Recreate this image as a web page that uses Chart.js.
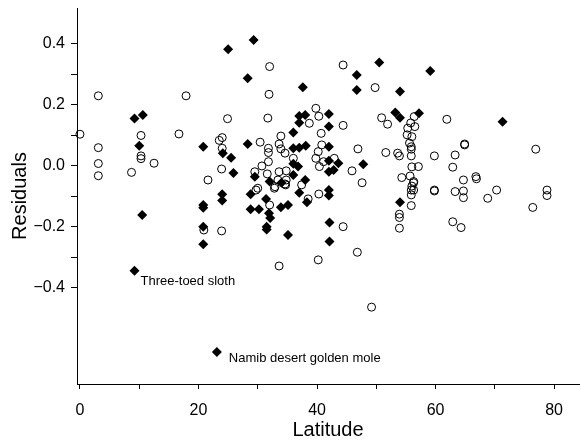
<!DOCTYPE html>
<html>
<head>
<meta charset="utf-8">
<script src="https://cdn.jsdelivr.net/npm/chart.js@4.4.0/dist/chart.umd.min.js"></script>
<style>
  html, body { margin: 0; padding: 0; background: #ffffff; }
</style>
</head>
<body>
<canvas id="chart" width="580" height="442"></canvas>
<script>
// open circles
var openLat = [0, 3.1, 3.1, 3.1, 3.1, 10.3, 10.3, 10.3, 12.5, 8.7,
    16.7, 17.9, 21.6, 24.9, 24.0, 23.5, 24.0, 23.9, 32.0, 44.4,
    31.9, 31.7, 39.8, 40.3, 38.7, 44.4, 40.7, 33.9, 30.4, 31.8,
    31.8, 33.6, 33.9, 34.6, 40.8, 46.9, 31.8, 30.7, 36.0, 40.2,
    39.8, 40.4, 41.1, 42.9, 45.9, 29.5, 31.6, 33.6, 34.8, 34.8,
    33.4, 34.7, 32.8, 37.4, 40.3, 30.0, 29.7, 38.5, 32.0, 20.9,
    23.9, 33.6, 40.2, 44.4, 46.8, 49.2, 47.6, 53.9, 53.9, 53.9,
    55.9, 55.9, 56.3, 55.9, 56.3, 59.8, 63.3, 64.7, 64.7, 64.7,
    62.9, 64.3, 66.8, 66.9, 68.8, 70.3, 76.4, 78.8, 78.8, 49.8,
    50.9, 51.9, 56.4, 56.5, 55.3, 55.2, 56.0, 55.9, 55.9, 55.9,
    61.9, 64.9, 64.9, 76.9, 51.6, 53.6, 53.9, 59.8, 63.3, 57.1,
    62.9, 54.3, 56.3, 59.8, 34.6, 32.9, 55.6, 55.8, 56.0, 55.7,
    56.0];
var openRes = [0.104, 0.23, 0.06, 0.008, -0.032, 0.1, 0.033, 0.024, 0.009, -0.021,
    0.105, 0.23, -0.046, 0.155, 0.093, 0.084, 0.058, -0.01, 0.326, 0.331,
    0.235, 0.157, 0.189, 0.163, 0.14, 0.133, 0.107, 0.098, 0.078, 0.058,
    0.044, 0.072, 0.056, 0.042, 0.069, 0.056, 0.014, 0.0, 0.025, 0.047,
    0.025, -0.002, 0.014, 0.025, -0.016, -0.019, -0.026, -0.019, -0.016, -0.046,
    -0.046, -0.062, -0.073, -0.062, -0.092, -0.073, -0.079, -0.108, -0.128, -0.21,
    -0.213, -0.328, -0.308, -0.199, -0.283, -0.463, -0.055, -0.158, -0.169, -0.204,
    -0.13, -0.079, -0.079, -0.095, -0.055, -0.082, -0.084, -0.082, -0.104, -0.046,
    -0.183, -0.202, -0.035, -0.042, -0.106, -0.079, -0.136, -0.079, -0.097, 0.257,
    0.158, 0.137, 0.162, 0.129, 0.124, 0.102, 0.096, 0.063, 0.055, 0.033,
    0.153, 0.069, 0.072, 0.055, 0.044, 0.042, 0.033, 0.033, 0.036, -0.002,
    -0.004, -0.038, -0.051, -0.079, -0.059, -0.068, 0.075, 0.141, -0.003, -0.033,
    -0.066];

// filled diamonds
var diamondLat = [9.2, 10.6, 10.0, 10.5, 9.2, 20.8, 25.0, 29.3, 28.3, 37.6,
    46.7, 46.7, 50.5, 59.1, 54.0, 53.2, 54.0, 57.2, 71.3, 37.0,
    38.0, 37.0, 42.0, 42.0, 36.0, 28.3, 24.1, 25.5, 25.9, 24.0,
    24.0, 36.0, 37.0, 38.1, 42.0, 36.0, 36.8, 42.0, 42.0, 42.8,
    43.6, 47.8, 29.5, 32.0, 34.0, 36.0, 38.0, 37.0, 42.0, 42.0,
    28.8, 31.4, 38.3, 20.8, 20.8, 20.8, 20.8, 28.8, 30.2, 31.9,
    32.1, 31.5, 31.5, 33.9, 35.1, 35.1, 42.1, 42.1, 54.0, 23.1];
var diamondRes = [0.156, 0.167, 0.066, -0.161, -0.344, 0.063, 0.383, 0.413, 0.288, 0.258,
    0.298, 0.249, 0.339, 0.311, 0.244, 0.175, 0.158, 0.173, 0.145, 0.164,
    0.167, 0.142, 0.17, 0.129, 0.11, 0.072, 0.042, 0.027, -0.023, -0.093,
    -0.113, 0.058, 0.06, 0.066, 0.063, 0.007, -0.002, 0.017, -0.019, -0.013,
    0.009, 0.006, -0.035, -0.051, -0.055, -0.03, -0.046, -0.088, -0.079, -0.097,
    -0.093, -0.108, -0.119, -0.128, -0.137, -0.199, -0.257, -0.142, -0.142, -0.155,
    -0.171, -0.199, -0.208, -0.135, -0.128, -0.226, -0.185, -0.248, -0.119, -0.61];

var xTicks = [0, 10, 20, 30, 40, 50, 60, 70, 80];
var yTicks = [-0.4, -0.3, -0.2, -0.1, 0, 0.1, 0.2, 0.3, 0.4];

var noteText = ["Three-toed sloth", "Namib desert golden mole"];
var noteLat = [9.2, 23.1];
var noteRes = [-0.344, -0.61];

function makePoints(xs, ys) {
    let pts = [];
    for (let i = 0; i < xs.length; i++) {
        pts.push({ x: xs[i], y: ys[i] });
    }
    return pts;
}

const FONT = '"Liberation Sans", Arial, Helvetica, sans-serif';

// labels next to the two outliers
const notePlugin = {
    id: 'notes',
    afterDatasetsDraw(chart) {
        let ctx = chart.ctx;
        let xs = chart.scales.x;
        let ys = chart.scales.y;
        let offsets = [[6, 11], [12, 6]];
        ctx.save();
        ctx.font = '13px ' + FONT;
        ctx.fillStyle = '#000';
        ctx.textBaseline = 'middle';
        ctx.textAlign = 'left';
        for (let i = 0; i < noteText.length; i++) {
            ctx.fillText(noteText[i],
                xs.getPixelForValue(noteLat[i]) + offsets[i][0],
                ys.getPixelForValue(noteRes[i]) + offsets[i][1]);
        }
        ctx.restore();
    }
};

const config = {
    type: 'scatter',
    data: {
        datasets: [
            {
                label: 'open',
                data: makePoints(openLat, openRes),
                pointStyle: 'circle',
                pointRadius: 4,
                pointBorderWidth: 1,
                pointBorderColor: '#000',
                pointBackgroundColor: 'rgba(0,0,0,0)',
                clip: false
            },
            {
                label: 'filled',
                data: makePoints(diamondLat, diamondRes),
                pointStyle: 'rectRot',
                pointRadius: 5,
                pointBorderWidth: 0,
                pointBorderColor: '#000',
                pointBackgroundColor: '#000',
                clip: false
            }
        ]
    },
    options: {
        responsive: false,
        animation: false,
        layout: { autoPadding: false, padding: { top: 8, right: 1, left: 0, bottom: 0 } },
        plugins: {
            legend: { display: false },
            tooltip: { enabled: false }
        },
        scales: {
            x: {
                type: 'linear',
                min: -0.5,
                max: 84.2,
                afterBuildTicks: function (scale) {
                    scale.ticks = xTicks.map(v => ({ value: v }));
                },
                afterFit: function (scale) {
                    scale.height = 58;
                    scale.paddingLeft = 0;
                    scale.paddingRight = 0;
                },
                ticks: {
                    autoSkip: false,
                    maxRotation: 0,
                    color: '#000',
                    padding: 12,
                    font: { family: FONT, size: 16 },
                    callback: function (v) { return v % 20 === 0 ? String(v) : ''; }
                },
                grid: { drawOnChartArea: false, drawTicks: true, tickLength: 5, color: '#000' },
                border: { display: true, color: '#000', width: 1 },
                title: {
                    display: true,
                    text: 'Latitude',
                    color: '#000',
                    font: { family: FONT, size: 20 },
                    padding: { top: 0, bottom: 0 }
                }
            },
            y: {
                type: 'linear',
                min: -0.715,
                max: 0.518,
                afterBuildTicks: function (scale) {
                    scale.ticks = yTicks.map(v => ({ value: v }));
                },
                afterFit: function (scale) {
                    scale.width = 77;
                    scale.paddingTop = 0;
                    scale.paddingBottom = 0;
                },
                ticks: {
                    autoSkip: false,
                    color: '#000',
                    padding: 6,
                    font: { family: FONT, size: 16 },
                    callback: function (v) {
                        let k = Math.round(v * 10);
                        if (k % 2 !== 0) return '';
                        return (k < 0 ? '\u2212' : '') + Math.abs(k / 10).toFixed(1);
                    }
                },
                grid: { drawOnChartArea: false, drawTicks: true, tickLength: 6, color: '#000' },
                border: { display: true, color: '#000', width: 1 },
                title: {
                    display: true,
                    text: 'Residuals',
                    color: '#000',
                    font: { family: FONT, size: 20 },
                    padding: { top: 8, bottom: 0 }
                }
            }
        }
    },
    plugins: [notePlugin]
};

new Chart(document.getElementById('chart'), config);
</script>
</body>
</html>
